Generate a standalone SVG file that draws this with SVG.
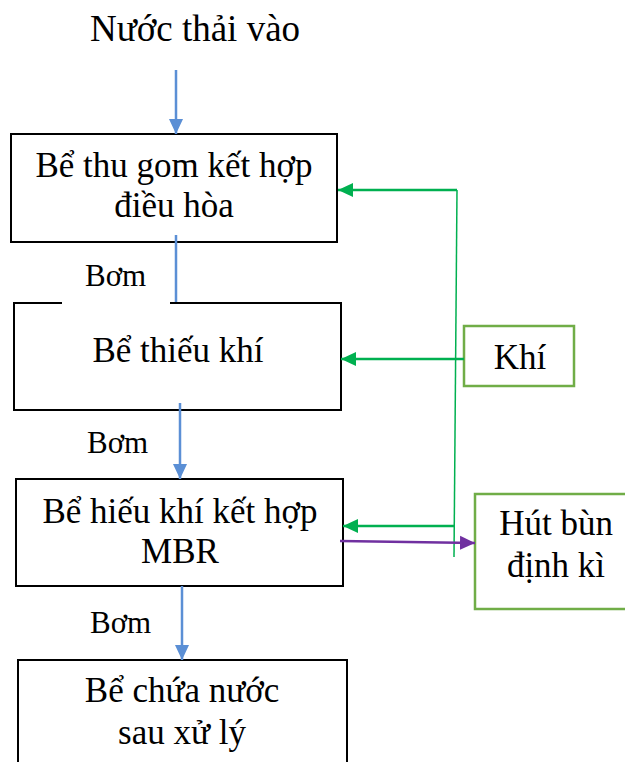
<svg xmlns="http://www.w3.org/2000/svg" width="625" height="762" viewBox="0 0 625 762">
<style>
text{font-family:"Liberation Serif","Times New Roman",serif;fill:#000;text-anchor:middle}
.big{font-size:35px}
.title{font-size:37px}
.lbl{font-size:31px;text-anchor:start}
.box{fill:#fff;stroke:#000;stroke-width:2}
.gbox{fill:#fff;stroke:#70AD47;stroke-width:2.5}
.blue{stroke:#5B8FD5;stroke-width:2.5;fill:none}
.green{stroke:#00B050;stroke-width:2.5;fill:none}
.purple{stroke:#7030A0;stroke-width:2.5;fill:none}
</style>
<defs>
<marker id="ab" markerUnits="userSpaceOnUse" markerWidth="16" markerHeight="16" viewBox="0 0 16 16" refX="15" refY="8" orient="auto"><path d="M0,1 L15,8 L0,15 Z" fill="#5B8FD5"/></marker>
<marker id="ag" markerUnits="userSpaceOnUse" markerWidth="16" markerHeight="16" viewBox="0 0 16 16" refX="15" refY="8" orient="auto"><path d="M0,1 L15,8 L0,15 Z" fill="#00B050"/></marker>
<marker id="ap" markerUnits="userSpaceOnUse" markerWidth="16" markerHeight="16" viewBox="0 0 16 16" refX="15" refY="8" orient="auto"><path d="M0,1 L15,8 L0,15 Z" fill="#7030A0"/></marker>
</defs>
<text class="title" x="195" y="41">Nước thải vào</text>
<g id="n1">
<rect class="box" x="11" y="134" width="326" height="108"/>
<text class="big" x="174" y="177">Bể thu gom kết hợp</text>
<text class="big" x="174" y="217">điều hòa</text>
</g>
<g id="n2">
<path class="box" d="M62,303 L14,303 L14,410 L341,410 L341,303 L170,303"/>
<text class="big" x="178" y="362">Bể thiếu khí</text>
</g>
<g id="n3">
<rect class="box" x="16" y="479" width="327" height="107"/>
<text class="big" x="180" y="523">Bể hiếu khí kết hợp</text>
<text class="big" x="180" y="563">MBR</text>
</g>
<g id="n4">
<path class="box" d="M18,765 L18,660 L347,660 L347,765"/>
<text class="big" x="182" y="702">Bể chứa nước</text>
<text class="big" x="182" y="744">sau xử lý</text>
</g>
<g id="khi">
<rect class="gbox" x="464" y="326" width="110" height="60"/>
<text class="big" x="520" y="369">Khí</text>
</g>
<g id="hutbun">
<rect class="gbox" x="475" y="494" width="160" height="115"/>
<text class="big" x="556" y="535">Hút bùn</text>
<text class="big" x="556" y="577">định kì</text>
</g>
<g id="connectors">
<line class="blue" x1="176" y1="70" x2="176" y2="134" marker-end="url(#ab)"/>
<line class="blue" x1="176" y1="235" x2="176" y2="302"/>
<line class="blue" x1="180" y1="403" x2="180" y2="479" marker-end="url(#ab)"/>
<line class="blue" x1="182" y1="586" x2="182" y2="660" marker-end="url(#ab)"/>
<line x1="457" y1="190" x2="454" y2="557" stroke="#00B050" stroke-width="1.5"/>
<line class="green" x1="457" y1="190" x2="338" y2="190" marker-end="url(#ag)"/>
<line class="green" x1="464" y1="359" x2="341" y2="359" marker-end="url(#ag)"/>
<line class="green" x1="454" y1="526" x2="343" y2="526" marker-end="url(#ag)"/>
<line class="purple" x1="340" y1="541" x2="475" y2="543" marker-end="url(#ap)"/>
<text class="lbl" x="85" y="286">Bơm</text>
<text class="lbl" x="87" y="453">Bơm</text>
<text class="lbl" x="90" y="633">Bơm</text>
</g>
</svg>
